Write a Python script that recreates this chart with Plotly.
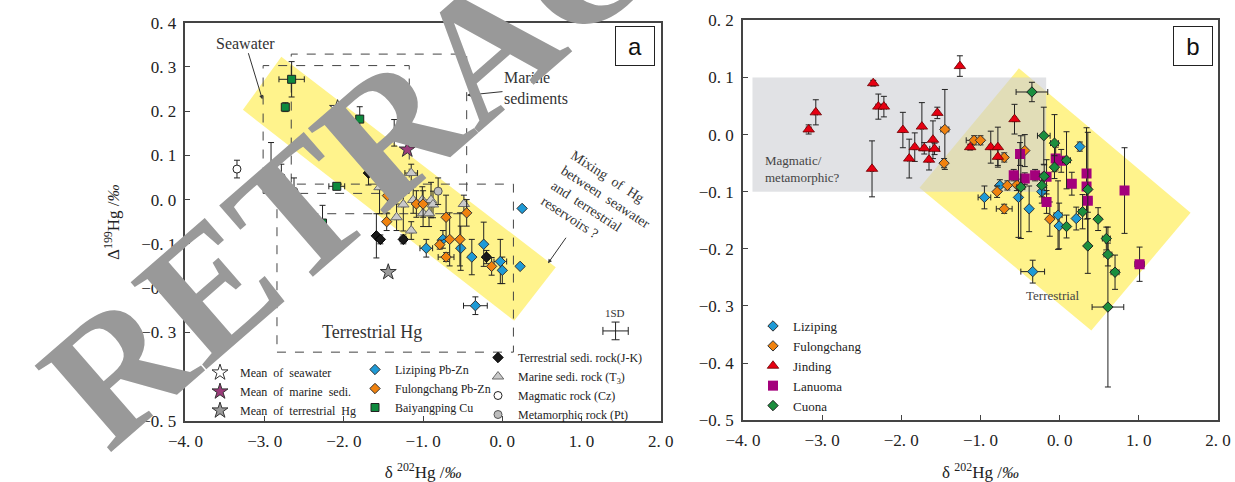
import plotly.graph_objects as go

# ================= Panel a data (delta202Hg, Delta199Hg, 1SD x, 1SD y) =================
a_lz_x = [0.25, -0.75, -0.96, -0.525, -0.235, -0.385, -0.025, 0.0, 0.225, -0.34]
a_lz_y = [-0.020, -0.090, -0.110, -0.110, -0.101, -0.130, -0.140, -0.160, -0.151, -0.240]
a_lz_ex = [0, 0.02, 0.08, 0.02, 0.02, 0.02, 0.08, 0.02, 0, 0.15]
a_lz_ey = [0, 0.02, 0.02, 0.05, 0.05, 0.04, 0.05, 0.03, 0, 0.02]

a_fl_x = [-1.45, -1.46, -1.085, -1.0, -0.71, -0.45, -0.665, -0.535, -0.79, -0.71, -0.135]
a_fl_y = [0.009, -0.050, -0.010, -0.010, -0.040, -0.030, -0.090, -0.090, -0.102, -0.130, -0.151]
a_fl_ex = [0.02, 0.02, 0.02, 0.02, 0.02, 0.02, 0.02, 0.02, 0.02, 0.10, 0.02]
a_fl_ey = [0.03, 0.02, 0.03, 0.03, 0.05, 0.03, 0.06, 0.06, 0.01, 0.01, 0.02]

a_by_x = [-2.66, -2.74, -1.80, -2.09, -2.27]
a_by_y = [0.272, 0.209, 0.182, 0.030, -0.053]
a_by_ex = [0.16, 0.02, 0.02, 0.10, 0.02]
a_by_ey = [0.04, 0.01, 0.028, 0.006, 0.04]

a_ts_x = [-1.69, -1.34, -1.59, -1.54, -1.25, -0.20]
a_ts_y = [0.060, 0.039, -0.082, -0.090, -0.090, -0.130]
a_ts_ex = [0.02, 0.05, 0.02, 0.02, 0.04, 0.03]
a_ts_ey = [0.027, 0.015, 0.05, 0.01, 0.01, 0.015]

a_ms_x = [-1.365, -1.54, -1.55, -1.15, -1.25, -1.125, -1.01, -0.90, -0.875, -1.00, -0.925, -1.335, -1.15, -0.485]
a_ms_y = [0.151, 0.050, 0.028, 0.060, -0.011, -0.001, -0.001, -0.001, -0.011, -0.031, -0.031, -0.040, -0.070, -0.010]
a_ms_ex = [0.02, 0.02, 0.02, 0.08, 0.02, 0.02, 0.02, 0.02, 0.02, 0.02, 0.02, 0.02, 0.02, 0.02]
a_ms_ey = [0.03, 0.02, 0.06, 0.02, 0.06, 0.03, 0.03, 0.04, 0.03, 0.03, 0.03, 0.03, 0.02, 0.02]

a_mg_x = [-3.35, -2.92, -2.79]
a_mg_y = [0.069, 0.069, 0.050]
a_mg_ex = [0.02, 0.05, 0.02]
a_mg_ey = [0.02, 0.06, 0.03]

a_mt_x = [-2.63, -0.81]
a_mt_y = [0.019, 0.019]
a_mt_ex = [0.03, 0.02]
a_mt_ey = [0.03, 0.03]

mean_names = ["Mean  of  seawater", "Mean  of  marine  sedi.", "Mean  of  terrestrial  Hg"]
mean_x = [-2.08, -1.20, -1.44]
mean_y = [0.207, 0.113, -0.164]

sd_x = [1.43]
sd_y = [-0.297]
sd_ex = [0.16]
sd_ey = [0.02]

# reservoir fields (panel a)
box_names = ["Seawater", "Marine sediments", "Terrestrial Hg"]
box_x0 = [-3.02, -2.665, -2.845]
box_x1 = [-1.175, -0.45, 0.14]
box_y0 = [0.014, -0.032, -0.345]
box_y1 = [0.303, 0.329, 0.035]
band_a_x = [-2.79, 0.675, 0.15, -3.275]
band_a_y = [0.323, -0.153, -0.274, 0.203]

# ================= Panel b data =================
b_lz_x = [0.255, -0.755, -0.95, -0.52, -0.225, -0.385, -0.02, 0.21, -0.006, -0.34]
b_lz_y = [-0.021, -0.089, -0.110, -0.110, -0.100, -0.130, -0.141, -0.147, -0.160, -0.240]
b_lz_ex = [0.02, 0.02, 0.08, 0.02, 0.02, 0.02, 0.05, 0.02, 0.02, 0.15]
b_lz_ey = [0.008, 0.01, 0.02, 0.07, 0.02, 0.04, 0.06, 0.02, 0.04, 0.02]

b_fl_x = [-1.45, -1.46, -1.08, -1.00, -0.44, -0.70, -0.66, -0.79, -0.70, -0.124, -0.54]
b_fl_y = [0.009, -0.050, -0.010, -0.010, -0.028, -0.040, -0.089, -0.100, -0.130, -0.148, -0.088]
b_fl_ex = [0.05, 0.02, 0.10, 0.02, 0.02, 0.02, 0.02, 0.02, 0.10, 0.02, 0.02]
b_fl_ey = [0.07, 0.008, 0.008, 0.008, 0.028, 0.008, 0.008, 0.01, 0.008, 0.03, 0.01]

b_jd_x = [-3.17, -3.08, -2.355, -2.29, -2.22, -2.37, -1.98, -1.90, -1.83, -1.74, -1.71,
          -1.65, -1.60, -1.58, -1.545, -1.26, -1.13, -0.87, -0.78, -0.78, -0.57]
b_jd_y = [0.009, 0.039, 0.090, 0.049, 0.049, -0.060, 0.008, -0.042, -0.022, 0.014, -0.024,
          -0.044, -0.009, -0.025, 0.038, 0.120, -0.022, -0.022, -0.022, -0.039, 0.027]
b_jd_ex = [0.03, 0.02, 0.02, 0.03, 0.03, 0.02, 0.02, 0.02, 0.02, 0.02, 0.02,
           0.02, 0.02, 0.06, 0.02, 0.02, 0.02, 0.02, 0.02, 0.02, 0.02]
b_jd_ey = [0.008, 0.022, 0.005, 0.022, 0.018, 0.049, 0.031, 0.034, 0.025, 0.042, 0.01,
           0.018, 0.033, 0.01, 0.01, 0.018, 0.005, 0.028, 0.035, 0.015, 0.026]

b_ln_x = [-0.50, -0.58, -0.44, -0.31, -0.165, -0.05, 0.02, 0.154, 0.34, 0.34, 0.82, -0.165, 0.356, 1.01]
b_ln_y = [-0.034, -0.071, -0.077, -0.071, -0.074, -0.042, -0.046, -0.086, -0.068, -0.091, -0.098, -0.118, -0.116, -0.227]
b_ln_ex = [0.02, 0.02, 0.02, 0.02, 0.02, 0.05, 0.05, 0.02, 0.02, 0.02, 0.02, 0.05, 0.05, 0.06]
b_ln_ey = [0.02, 0.01, 0.01, 0.01, 0.03, 0.02, 0.02, 0.02, 0.08, 0.02, 0.075, 0.02, 0.02, 0.03]

b_cn_x = [-0.35, -0.20, -0.065, 0.087, -0.065, -0.195, -0.225, -0.49, 0.356, 0.29, 0.486,
          0.087, 0.59, 0.356, 0.61, 0.70, 0.61]
b_cn_y = [0.0746, -0.002, -0.015, -0.045, -0.057, -0.073, -0.089, -0.092, -0.096, -0.135, -0.148,
          -0.161, -0.182, -0.195, -0.210, -0.241, -0.302]
b_cn_ex = [0.20, 0.08, 0.05, 0.05, 0.02, 0.02, 0.02, 0.05, 0.02, 0.05, 0.02,
           0.02, 0.05, 0.02, 0.05, 0.05, 0.20]
b_cn_ey = [0.017, 0.05, 0.05, 0.05, 0.02, 0.02, 0.02, 0.09, 0.10, 0.03, 0.02,
           0.02, 0.02, 0.048, 0.02, 0.03, 0.14]

gray_b_x = [-3.88, -0.17, -0.17, -3.88]
gray_b_y = [0.10, 0.10, -0.10, -0.10]
band_b_x = [-0.515, 1.654, 0.40, -1.77]
band_b_y = [0.116, -0.137, -0.343, -0.093]

x_ticks = [-4, -3, -2, -1, 0, 1, 2]
x_ticktext = ["−4. 0", "−3. 0", "−2. 0", "−1. 0", "0. 0", "1. 0", "2. 0"]
ya_ticks = [-0.5, -0.4, -0.3, -0.2, -0.1, 0, 0.1, 0.2, 0.3, 0.4]
ya_ticktext = ["−0. 5", "−0. 4", "−0. 3", "−0. 2", "−0. 1", "0. 0", "0. 1", "0. 2", "0. 3", "0. 4"]
yb_ticks = [-0.5, -0.4, -0.3, -0.2, -0.1, 0, 0.1, 0.2]
yb_ticktext = ["−0. 5", "−0. 4", "−0. 3", "−0. 2", "−0. 1", "0. 0", "0. 1", "0. 2"]

SERIF = "Liberation Serif"
TXT = "#333333"

fig = go.Figure()


def eb(vals):
    return dict(type="data", array=vals, visible=True, color="#222222", thickness=1, width=3)


def add_series(name, x, y, ex, ey, symbol, size, color, line_color, line_w, xa, ya, legend):
    fig.add_trace(go.Scatter(
        x=x, y=y, mode="markers", name=name,
        error_x=eb(ex), error_y=eb(ey),
        marker=dict(symbol=symbol, size=size, color=color,
                    line=dict(color=line_color, width=line_w)),
        xaxis=xa, yaxis=ya, legend=legend, hoverinfo="skip"))


# ---- panel a ----
add_series("Terrestrial sedi. rock(J-K)", a_ts_x, a_ts_y, a_ts_ex, a_ts_ey, "diamond", 8, "#1a1a1a", "#000000", 1, "x", "y", "legend3")
add_series("Marine sedi. rock (T<sub>3</sub>)", a_ms_x, a_ms_y, a_ms_ex, a_ms_ey, "triangle-up", 10, "#C9C9C9", "#6a6a6a", 1, "x", "y", "legend3")
add_series("Magmatic rock (Cz)", a_mg_x, a_mg_y, a_mg_ex, a_mg_ey, "circle", 8, "#ffffff", "#222222", 1, "x", "y", "legend3")
add_series("Metamorphic rock (Pt)", a_mt_x, a_mt_y, a_mt_ex, a_mt_ey, "circle", 8, "#BDBDBD", "#555555", 1, "x", "y", "legend3")
add_series("Liziping Pb-Zn", a_lz_x, a_lz_y, a_lz_ex, a_lz_ey, "diamond", 8, "#1E9AD6", "#333333", 1, "x", "y", "legend2")
add_series("Fulongchang Pb-Zn", a_fl_x, a_fl_y, a_fl_ex, a_fl_ey, "diamond", 8, "#F0820F", "#333333", 1, "x", "y", "legend2")
add_series("Baiyangping Cu", a_by_x, a_by_y, a_by_ex, a_by_ey, "square", 8, "#0E8A3E", "#222222", 1, "x", "y", "legend2")

mean_colors = ["#ffffff", "#9B3B7A", "#9A9A9A"]
for i in range(3):
    fig.add_trace(go.Scatter(
        x=[mean_x[i]], y=[mean_y[i]], mode="markers", name=mean_names[i],
        marker=dict(symbol="star", size=12, color=mean_colors[i], line=dict(color="#333333", width=1)),
        xaxis="x", yaxis="y", legend="legend", hoverinfo="skip"))

fig.add_trace(go.Scatter(x=sd_x, y=sd_y, mode="markers", marker=dict(size=1, color="rgba(0,0,0,0)"),
                         error_x=dict(type="data", array=sd_ex, color="#222", thickness=1, width=4),
                         error_y=dict(type="data", array=sd_ey, color="#222", thickness=1, width=4),
                         showlegend=False, xaxis="x", yaxis="y", hoverinfo="skip"))

# ---- panel b ----
add_series("Liziping", b_lz_x, b_lz_y, b_lz_ex, b_lz_ey, "diamond", 8, "#1E9AD6", "#333333", 1, "x2", "y2", "legend4")
add_series("Fulongchang", b_fl_x, b_fl_y, b_fl_ex, b_fl_ey, "diamond", 8, "#F0820F", "#333333", 1, "x2", "y2", "legend4")
add_series("Jinding", b_jd_x, b_jd_y, b_jd_ex, b_jd_ey, "triangle-up", 10, "#E60012", "#6a0000", 0.8, "x2", "y2", "legend4")
add_series("Lanuoma", b_ln_x, b_ln_y, b_ln_ex, b_ln_ey, "square", 10, "#A4007C", "#A4007C", 0, "x2", "y2", "legend4")
add_series("Cuona", b_cn_x, b_cn_y, b_cn_ex, b_cn_ey, "diamond", 8, "#1B8E3E", "#222222", 1, "x2", "y2", "legend4")

# ---- shapes ----
def poly(xs, ys):
    return "M " + " L ".join(f"{a},{b}" for a, b in zip(xs, ys)) + " Z"

shapes = [
    dict(type="path", path=poly(band_a_x, band_a_y), xref="x", yref="y",
         fillcolor="rgb(255,243,140)", line=dict(width=0), layer="below"),
    dict(type="path", path=poly(band_b_x, band_b_y), xref="x2", yref="y2",
         fillcolor="rgb(255,243,140)", line=dict(width=0), layer="below"),
    dict(type="path", path=poly(gray_b_x, gray_b_y), xref="x2", yref="y2",
         fillcolor="rgba(205,207,211,0.6)", line=dict(width=0), layer="below"),
]
for i in range(3):
    shapes.append(dict(type="rect", x0=box_x0[i], x1=box_x1[i], y0=box_y0[i], y1=box_y1[i],
                       xref="x", yref="y", line=dict(color="#444444", width=1, dash="dash"),
                       fillcolor="rgba(0,0,0,0)", layer="below"))

# ---- annotations ----
ann = []
ann.append(dict(text="Seawater", x=-3.03, y=0.227, xref="x", yref="y", showarrow=True, ax=-17, ay=-56,
                arrowhead=2, arrowsize=0.8, arrowwidth=1, arrowcolor="#333",
                font=dict(family=SERIF, size=16, color=TXT)))
ann.append(dict(text="Marine<br>sediments", x=-0.446, y=0.236, xref="x", yref="y", showarrow=True,
                ax=69, ay=-7, align="left", arrowhead=2, arrowsize=0.8, arrowwidth=1, arrowcolor="#333",
                font=dict(family=SERIF, size=16, color=TXT)))
ann.append(dict(text="Terrestrial Hg", x=-1.646, y=-0.30, xref="x", yref="y", showarrow=False,
                font=dict(family=SERIF, size=18, color=TXT)))
ann.append(dict(text="Mixing  of  Hg<br>between  seawater<br>and  terrestrial<br>reservoirs ?",
                x=1.24, y=-0.012, xref="x", yref="y", showarrow=False, textangle=33, align="left",
                xanchor="center", yanchor="middle",
                font=dict(family=SERIF, size=14, color=TXT)))
ann.append(dict(text="", x=0.577, y=-0.144, xref="x", yref="y", showarrow=True, ax=19, ay=-27,
                arrowhead=2, arrowsize=0.8, arrowwidth=1, arrowcolor="#333"))
ann.append(dict(text="1SD", x=1.42, y=-0.257, xref="x", yref="y", showarrow=False,
                font=dict(family=SERIF, size=11, color=TXT)))
ann.append(dict(text="a", x=1.68, y=0.348, xref="x", yref="y", showarrow=False,
                width=36, height=36, bordercolor="#222", borderwidth=1, bgcolor="white",
                font=dict(family="Liberation Sans", size=24, color="#111")))
ann.append(dict(text="b", x=1.69, y=0.156, xref="x2", yref="y2", showarrow=False,
                width=36, height=36, bordercolor="#222", borderwidth=1, bgcolor="white",
                font=dict(family="Liberation Sans", size=24, color="#111")))
ann.append(dict(text="Magmatic/<br>metamorphic?", x=-3.75, y=-0.061, xref="x2", yref="y2", showarrow=False,
                xanchor="left", align="left", font=dict(family=SERIF, size=13, color="#444")))
ann.append(dict(text="Terrestrial", x=-0.08, y=-0.282, xref="x2", yref="y2", showarrow=False,
                font=dict(family=SERIF, size=13, color="#444")))
ann.append(dict(text="Δ<sup>199</sup>Hg /<i>‰</i>", x=112 / 1235, y=1 - 222 / 482, xref="paper", yref="paper",
                xanchor="center", yanchor="middle",
                showarrow=False, textangle=-90, font=dict(family=SERIF, size=17, color="#222")))
# retraction watermark
ann.append(dict(text="<b>RETRACTED</b>", x=486 / 1235, y=1 - 48 / 482, xref="paper", yref="paper",
                xanchor="center", yanchor="middle",
                showarrow=False, textangle=-41, font=dict(family=SERIF, size=176, color="#999999")))

axis_common = dict(showgrid=False, zeroline=False, showline=True, mirror=True, linecolor="#444444",
                   linewidth=1.5, ticks="inside", ticklen=5, tickcolor="#444444", automargin=False,
                   ticklabelstandoff=4, tickfont=dict(family=SERIF, size=17, color="#222"))

leg_common = dict(bgcolor="rgba(0,0,0,0)", xanchor="left", yanchor="top", itemwidth=30,
                  tracegroupgap=0, font=dict(family=SERIF, size=12, color="#222"))

fig.update_layout(
    width=1235, height=482, margin=dict(l=0, r=0, t=0, b=0, autoexpand=False),
    paper_bgcolor="white", plot_bgcolor="rgba(0,0,0,0)",
    xaxis=dict(domain=[0.1502, 0.5350], range=[-4, 2], tickvals=x_ticks, ticktext=x_ticktext,
               title=dict(text="δ <sup>202</sup>Hg /<i>‰</i>", font=dict(family=SERIF, size=17, color="#222"), standoff=22),
               anchor="y", **axis_common),
    yaxis=dict(domain=[0.1272, 0.9529], range=[-0.5, 0.4], tickvals=ya_ticks, ticktext=ya_ticktext,
               anchor="x", **axis_common),
    xaxis2=dict(domain=[0.6016, 0.9862], range=[-4, 2], tickvals=x_ticks, ticktext=x_ticktext,
                title=dict(text="δ <sup>202</sup>Hg /<i>‰</i>", font=dict(family=SERIF, size=17, color="#222"), standoff=22),
                anchor="y2", **axis_common),
    yaxis2=dict(domain=[0.1284, 0.9577], range=[-0.5, 0.2], tickvals=yb_ticks, ticktext=yb_ticktext,
                anchor="x2", **axis_common),
    shapes=shapes, annotations=ann,
    legend=dict(x=200 / 1235, y=1 - 358 / 482, **leg_common),
    legend2=dict(x=355 / 1235, y=1 - 355 / 482, **leg_common),
    legend3=dict(x=478 / 1235, y=1 - 343 / 482, **leg_common),
    legend4=dict(x=753 / 1235, y=1 - 311 / 482, **{**leg_common, "font": dict(family=SERIF, size=13, color="#222")}),
)

fig.write_html("out.html", config={"displayModeBar": False},
               post_script="document.body.style.margin='0px';")
